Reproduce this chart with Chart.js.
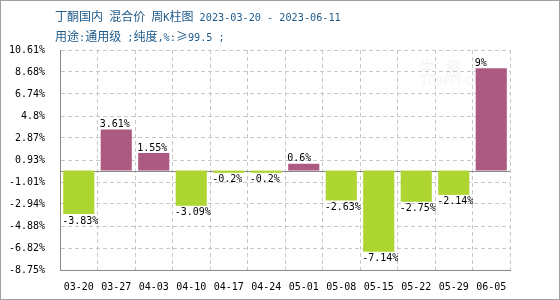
<!DOCTYPE html>
<html lang="zh">
<head>
    <meta charset="UTF-8">
    <title>丁酮国内 混合价 周K柱图</title>
    <style>
        body { margin: 0; background: #fff; }
        .wrap { position: relative; width: 560px; height: 300px; }
        .frame { position: absolute; left: 0; top: 0; width: 560px; height: 300px; box-sizing: border-box; border: 1px solid #a0a0a0; pointer-events: none; }
        .title { position: absolute; left: 55px; color: #1e5a8a; font: 12px "Noto Sans CJK SC", sans-serif; white-space: pre; line-height: 14px; }
        .title .n { font: 10.2px "DejaVu Sans Mono", monospace; }
        .mark { position: absolute; left: 418px; top: 54px; color: #f5f5f5; font: 18px "Noto Sans CJK SC", sans-serif; letter-spacing: 8px; }
        .mark2 { position: absolute; left: 420px; top: 74px; color: #f5f5f5; font: 12px "DejaVu Sans", sans-serif; }
        canvas { position: absolute; left: 0; top: 0; }
    </style>
</head>
<body>
<div class="wrap">
    <div class="mark">生意社</div>
    <div class="mark2">100PPI.COM</div>
    <canvas id="chart" width="560" height="300"></canvas>
    <div class="title" style="top: 9px;">丁酮国内<span class="n"> </span>混合价<span class="n"> </span>周<span class="n">K</span>柱图<span class="n"> 2023-03-20 - 2023-06-11</span></div>
    <div class="title" style="top: 29px;">用途<span class="n">:</span>通用级<span class="n"> ;</span>纯度<span class="n">,%:</span>≥<span class="n">99.5 ;</span></div>
    <div class="frame"></div>
</div>
<script src="https://cdn.jsdelivr.net/npm/chart.js"></script>
<script>
    const weeks = ['03-20', '03-27', '04-03', '04-10', '04-17', '04-24', '05-01', '05-08', '05-15', '05-22', '05-29', '06-05'];
    const changes = [-3.83, 3.61, 1.55, -3.09, -0.2, -0.2, 0.6, -2.63, -7.14, -2.75, -2.14, 9];
    const yTicks = [-8.75, -6.82, -4.88, -2.94, -1.01, 0.93, 2.87, 4.8, 6.74, 8.68, 10.61];
    const yTickLabels = ['-8.75%', '-6.82%', '-4.88%', '-2.94%', '-1.01%', '0.93%', '2.87%', '4.8%', '6.74%', '8.68%', '10.61%'];

    const UP = '#ad5a82';
    const DOWN = '#add632';
    const MONO = '"DejaVu Sans Mono", monospace';

    // solid line at zero
    const zeroLine = {
        id: 'zeroLine',
        beforeDatasetsDraw(chart) {
            const { ctx, chartArea } = chart;
            const y = Math.round(chart.scales.y.getPixelForValue(0)) + 0.5;
            ctx.save();
            ctx.strokeStyle = '#888';
            ctx.lineWidth = 1;
            ctx.beginPath();
            ctx.moveTo(chartArea.left, y);
            ctx.lineTo(chartArea.right, y);
            ctx.stroke();
            ctx.restore();
        }
    };

    // value labels, left aligned on each bar
    const barLabels = {
        id: 'barLabels',
        afterDatasetsDraw(chart) {
            const { ctx } = chart;
            const meta = chart.getDatasetMeta(0);
            ctx.save();
            ctx.font = '10px ' + MONO;
            ctx.fillStyle = '#000';
            ctx.textAlign = 'left';
            meta.data.forEach((bar, i) => {
                const v = changes[i];
                const x = bar.x - bar.width / 2 - 1;
                if (v >= 0) {
                    ctx.textBaseline = 'bottom';
                    ctx.fillText(v + '%', x, bar.y);
                } else {
                    ctx.textBaseline = 'top';
                    ctx.fillText(v + '%', x, bar.y + 2);
                }
            });
            ctx.restore();
        }
    };

    new Chart(document.getElementById('chart'), {
        type: 'bar',
        data: {
            labels: weeks,
            datasets: [{
                data: changes,
                backgroundColor: changes.map(v => v >= 0 ? UP : DOWN),
                barPercentage: 0.83,
                categoryPercentage: 1.0
            }]
        },
        options: {
            responsive: false,
            animation: false,
            layout: { padding: { left: 0, right: 50, top: 50, bottom: 0 } },
            plugins: {
                legend: { display: false },
                tooltip: { enabled: false }
            },
            scales: {
                x: {
                    afterFit(scale) { scale.height = 30; },
                    grid: { color: '#c8c8c8', drawTicks: false, offset: true },
                    border: { color: '#888', dash: [4, 3] },
                    ticks: { color: '#000', font: { family: MONO, size: 10 }, padding: 11, maxRotation: 0 }
                },
                y: {
                    min: -8.75,
                    max: 10.61,
                    afterFit(scale) { scale.width = 60; },
                    afterBuildTicks(scale) { scale.ticks = yTicks.map(v => ({ value: v })); },
                    grid: { color: '#c8c8c8', drawTicks: false },
                    border: { color: '#888', dash: [4, 3] },
                    ticks: {
                        color: '#000',
                        font: { family: MONO, size: 10 },
                        padding: 15,
                        callback: (value, index) => yTickLabels[index]
                    }
                }
            }
        },
        plugins: [zeroLine, barLabels]
    });
</script>
</body>
</html>
